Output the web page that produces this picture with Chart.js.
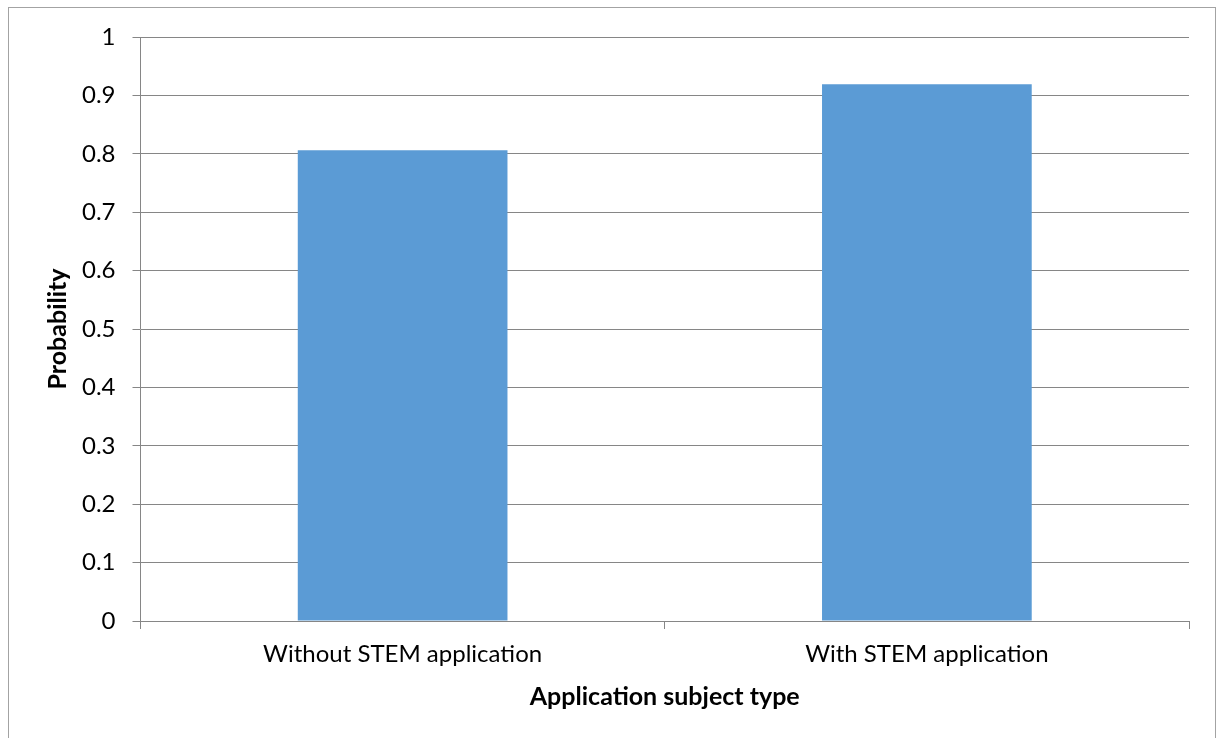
<!DOCTYPE html>
<html>
<head>
<meta charset="utf-8">
<script src="https://cdn.jsdelivr.net/npm/chart.js@4"></script>
<style>
  html, body { margin: 0; padding: 0; background: #fff; }
  #wrap { position: relative; width: 1219px; height: 738px; overflow: hidden; }
  #frame { position: absolute; left: 8px; top: 7px; width: 1208px; height: 800px; border: 1px solid #a3a3a3; box-sizing: border-box; }
  canvas { position: absolute; left: 0; top: 0; }
</style>
</head>
<body>
<div id="wrap">
  <div id="frame"></div>
  <canvas id="chart" width="1219" height="738"></canvas>
</div>
<script>
// values
const categories = ["Without STEM application", "With STEM application"];
const probability = [0.806, 0.919];
const yTicks = [0, 0.1, 0.2, 0.3, 0.4, 0.5, 0.6, 0.7, 0.8, 0.9, 1];

const FONT = "Lato, 'Open Sans', sans-serif";
const GRID = "#868686";

const ctx = document.getElementById("chart").getContext("2d");

new Chart(ctx, {
  type: "bar",
  data: {
    labels: categories,
    datasets: [
      {
        label: "Probability",
        data: probability,
        backgroundColor: "#5b9bd5",
        borderWidth: 0,
        barPercentage: 0.4,
        categoryPercentage: 1,
      },
    ],
  },
  options: {
    responsive: false,
    animation: false,
    devicePixelRatio: 1,
    layout: { padding: { left: 0, top: 37, right: 30, bottom: 0 } },
    plugins: {
      legend: { display: false },
      tooltip: { enabled: false },
    },
    scales: {
      x: {
        offset: true,
        grid: {
          offset: true,
          drawOnChartArea: false,
          drawTicks: true,
          tickLength: 8,
          color: GRID,
        },
        border: { display: true, color: GRID },
        ticks: {
          color: "#000",
          padding: 11,
          font: { family: FONT, size: 24 },
        },
        title: {
          display: true,
          text: "Application subject type",
          color: "#000",
          padding: { top: 0, bottom: 26 },
          font: { family: FONT, size: 25, weight: "bold" },
        },
        afterFit: (scale) => { scale.height = 117; },
      },
      y: {
        min: 0,
        max: 1,
        afterBuildTicks: (scale) => {
          scale.ticks = yTicks.map((v) => ({ value: v }));
        },
        grid: {
          color: GRID,
          tickLength: 8,
        },
        border: { display: true, color: GRID },
        ticks: {
          color: "#000",
          padding: 17,
          font: { family: FONT, size: 24 },
          callback: (v) => String(v),
        },
        title: {
          display: true,
          text: "Probability",
          color: "#000",
          padding: { top: 43, bottom: 0 },
          font: { family: FONT, size: 25, weight: "bold" },
        },
        afterFit: (scale) => { scale.width = 140.5; },
      },
    },
  },
});
</script>
</body>
</html>
